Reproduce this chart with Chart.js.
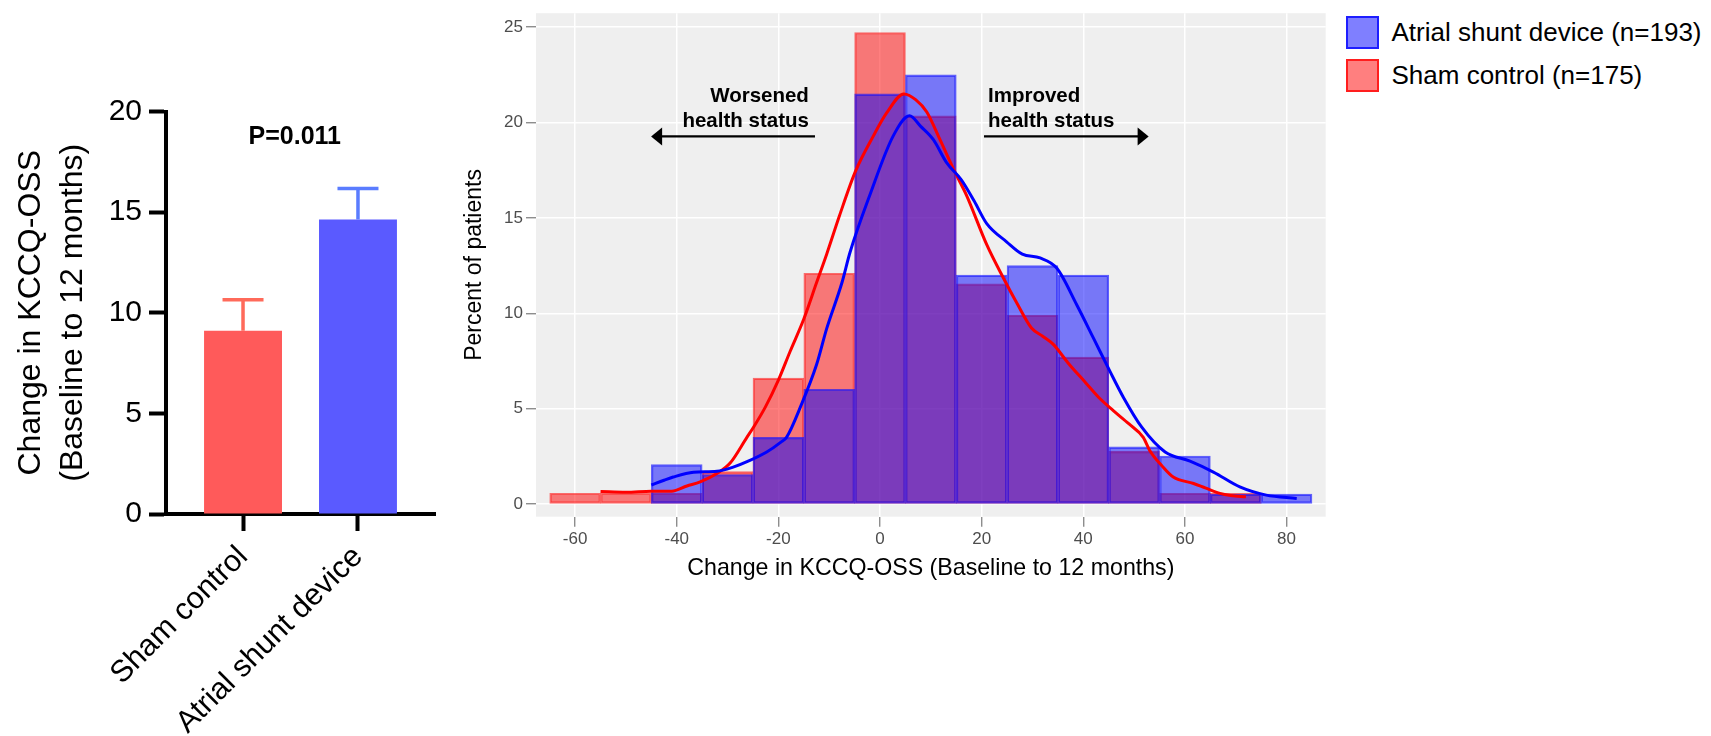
<!DOCTYPE html>
<html>
<head>
<meta charset="utf-8">
<script src="https://cdn.jsdelivr.net/npm/chart.js@4.4.1/dist/chart.umd.min.js"></script>
<style>
  body { margin: 0; background: #fff; width: 1711px; height: 736px; position: relative; overflow: hidden;
         font-family: 'Liberation Sans', Arial, Helvetica, sans-serif; }
  #barChart { position: absolute; left: 0; top: 0; }
  #histChart { position: absolute; left: 440px; top: 0; }
  #legend { position: absolute; left: 1346px; top: 16px; }
  .item { display: flex; align-items: center; height: 33px; margin-bottom: 9.5px; font-size: 26px; color: #000; white-space: nowrap; }
  .box { width: 33px; height: 33px; box-sizing: border-box; border: 2px solid; margin-right: 12.5px; }
</style>
</head>
<body>
<canvas id="barChart" width="440" height="736"></canvas>
<canvas id="histChart" width="890" height="600"></canvas>
<div id="legend"></div>
<script>
// left panel: mean change with SEM
const groups = ['Sham control', 'Atrial shunt device'];
const meanChange = [9.1, 14.63];
const semChange = [1.55, 1.54];
const pValueText = 'P=0.011';
const leftTicks = [0, 5, 10, 15, 20];

// right panel: histogram (% of patients per 10-point bin)
const binCenters = [-60, -50, -40, -30, -20, -10, 0, 10, 20, 30, 40, 50, 60, 70, 80];
const shuntPct = [null, null, 2.07, 1.55, 3.5, 6.02, 21.5, 22.5, 12.0, 12.5, 12.0, 3.0, 2.52, 0.52, 0.52];
const shamPct = [0.57, 0.57, 0.57, 1.7, 6.6, 12.1, 24.72, 20.35, 11.55, 9.9, 7.7, 2.76, 0.57, 0.57, null];
const histXTicks = [-60, -40, -20, 0, 20, 40, 60, 80];
const histYTicks = [0, 5, 10, 15, 20, 25];

// density curves
const shamKdeX = [-55, -50, -45, -41, -38, -35.4, -32.1, -29.5, -26.2, -24.9, -22.6, -20, -17.7, -15, -12.5, -10.5, -8, -4.9, -1.3, 1.3, 4.7, 7, 9.2, 11.8, 14.75, 17, 21, 24.3, 27, 29.8, 32, 34.1, 37, 40.5, 43, 45.9, 49, 51.8, 53.1, 55.5, 57.7, 61.7, 64, 66.9, 69, 72];
const shamKdeY = [0.66, 0.62, 0.68, 0.68, 0.95, 1.16, 1.6, 2.15, 3.5, 4.03, 5.07, 6.5, 8.0, 9.7, 11.6, 13.1, 15.1, 17.4, 19.3, 20.5, 21.5, 21.2, 20.55, 19.1, 17.4, 16.2, 13.6, 11.84, 10.5, 9.23, 8.8, 8.37, 7.4, 6.35, 5.6, 4.9, 4.2, 3.5, 2.8, 2.0, 1.42, 1.08, 0.85, 0.56, 0.45, 0.38];
const shuntKdeX = [-45, -42.5, -40.7, -36.7, -32.1, -28.9, -25.6, -22.3, -19.5, -18.4, -15.5, -12.5, -10.5, -7.5, -5.9, -2, 2.6, 5.8, 8, 10.5, 13.1, 16, 18.5, 21, 24.9, 28, 31.5, 34.8, 38.7, 42, 45.2, 47.9, 51.5, 56.1, 61, 65.6, 70.8, 76, 82];
const shuntKdeY = [1.0, 1.25, 1.42, 1.67, 1.72, 1.94, 2.29, 2.73, 3.25, 3.5, 5.2, 7.3, 9.2, 11.6, 13.2, 16.2, 19.3, 20.35, 19.8, 19.1, 17.9, 17.0, 15.9, 14.7, 13.75, 13.1, 12.9, 12.36, 10.45, 8.7, 6.98, 5.59, 4.03, 2.73, 2.25, 1.68, 0.9, 0.47, 0.3];

const FONT = "'Liberation Sans', Arial, Helvetica, sans-serif";
Chart.defaults.font.family = FONT;
Chart.defaults.color = '#000';
Chart.defaults.animation = false;

const errorBars = {
  id: 'errorBars',
  afterDatasetsDraw(chart, args, opts) {
    const {ctx, scales: {x, y}} = chart;
    ctx.save();
    ctx.lineWidth = 3.5;
    groups.forEach((g, i) => {
      const px = x.getPixelForValue(i);
      const top = y.getPixelForValue(meanChange[i] + semChange[i]);
      const base = y.getPixelForValue(meanChange[i]);
      ctx.strokeStyle = opts.colors[i];
      ctx.beginPath();
      ctx.moveTo(px, base);
      ctx.lineTo(px, top);
      ctx.moveTo(px - 20.5, top);
      ctx.lineTo(px + 20.5, top);
      ctx.stroke();
    });
    ctx.font = 'bold 25px ' + FONT;
    ctx.fillStyle = '#000';
    ctx.textAlign = 'center';
    ctx.textBaseline = 'middle';
    ctx.fillText(pValueText, x.getPixelForValue(0.45), y.getPixelForValue(18.75));
    ctx.restore();
  }
};

new Chart(document.getElementById('barChart'), {
  type: 'bar',
  data: {
    datasets: [{
      data: meanChange.map((v, i) => ({x: i, y: v})),
      backgroundColor: ['#ff5a5a', '#5a5aff'],
      borderWidth: 0,
      categoryPercentage: 1,
      barPercentage: 0.678
    }]
  },
  options: {
    responsive: false,
    layout: {padding: {top: 111.5, right: 5, left: 0, bottom: 0}},
    plugins: {
      legend: {display: false},
      tooltip: {enabled: false},
      errorBars: {colors: ['#ff6a5a', '#5a7cff']}
    },
    scales: {
      x: {
        type: 'linear', min: -0.67, max: 1.67, offset: false,
        afterBuildTicks: s => { s.ticks = groups.map((g, i) => ({value: i})); },
        afterFit: s => { s.height = 222; },
        grid: {drawOnChartArea: false, offset: false, tickLength: 17, tickWidth: 4, tickColor: '#000'},
        border: {display: true, color: '#000', width: 4},
        ticks: {callback: v => groups[v], minRotation: 45, maxRotation: 45, autoSkip: false,
                font: {size: 30.5}, color: '#000', padding: 8}
      },
      y: {
        min: 0, max: 20,
        afterBuildTicks: s => { s.ticks = leftTicks.map(v => ({value: v})); },
        afterFit: s => { s.width = 166; },
        grid: {drawOnChartArea: false, tickLength: 17, tickWidth: 4, tickColor: '#000'},
        border: {display: true, color: '#000', width: 4},
        ticks: {font: {size: 30}, color: '#000', padding: 7},
        title: {display: true, text: ['Change in KCCQ-OSS', '(Baseline to 12 months)'],
                font: {size: 32, lineHeight: 1.3125}, padding: {top: 10, bottom: 0}, color: '#000'}
      }
    }
  },
  plugins: [errorBars]
});

// gray panel behind the histogram
const panelBg = {
  id: 'panelBg',
  beforeDraw(chart) {
    const {ctx, chartArea: a} = chart;
    ctx.save();
    ctx.fillStyle = '#efefef';
    ctx.fillRect(a.left, a.top, a.right - a.left, a.bottom - a.top);
    ctx.restore();
  }
};

// bold notes with arrows
const notes = {
  id: 'notes',
  afterDraw(chart, args, opts) {
    const {ctx, scales: {x, y}} = chart;
    ctx.save();
    ctx.fillStyle = '#000';
    ctx.strokeStyle = '#000';
    ctx.font = 'bold 20.5px ' + FONT;
    ctx.textBaseline = 'alphabetic';
    opts.items.forEach(n => {
      ctx.textAlign = n.align;
      n.lines.forEach((t, k) => ctx.fillText(t, x.getPixelForValue(n.x), y.getPixelForValue(n.y) + k * 25));
      const ay = y.getPixelForValue(n.arrowY);
      const x1 = x.getPixelForValue(n.from), x2 = x.getPixelForValue(n.to);
      const dir = Math.sign(x2 - x1);
      ctx.lineWidth = 2.2;
      ctx.beginPath();
      ctx.moveTo(x1, ay);
      ctx.lineTo(x2 - dir * 8, ay);
      ctx.stroke();
      ctx.beginPath();
      ctx.moveTo(x2, ay);
      ctx.lineTo(x2 - dir * 11, ay - 9);
      ctx.lineTo(x2 - dir * 11, ay + 9);
      ctx.closePath();
      ctx.fill();
    });
    ctx.restore();
  }
};

const histChart = new Chart(document.getElementById('histChart'), {
  type: 'bar',
  data: {
    datasets: [
      {
        label: 'Atrial shunt device (n=193)',
        data: binCenters.map((c, i) => ({x: c, y: shuntPct[i]})),
        backgroundColor: 'rgba(0,0,255,0.5)',
        borderColor: 'rgba(20,20,255,0.65)',
        borderWidth: 1.5, borderSkipped: false,
        grouped: false, categoryPercentage: 1, barPercentage: 1,
        order: 3
      },
      {
        label: 'Sham control (n=175)',
        data: binCenters.map((c, i) => ({x: c, y: shamPct[i]})),
        backgroundColor: 'rgba(255,0,0,0.5)',
        borderColor: 'rgba(255,20,20,0.6)',
        borderWidth: 1.5, borderSkipped: false,
        grouped: false, categoryPercentage: 1, barPercentage: 1,
        order: 4
      },
      {
        type: 'line', label: 'sham density',
        data: shamKdeX.map((v, i) => ({x: v, y: shamKdeY[i]})),
        borderColor: '#ff0000', borderWidth: 3, pointRadius: 0, fill: false,
        cubicInterpolationMode: 'monotone', order: 2
      },
      {
        type: 'line', label: 'shunt density',
        data: shuntKdeX.map((v, i) => ({x: v, y: shuntKdeY[i]})),
        borderColor: '#0000ff', borderWidth: 3, pointRadius: 0, fill: false,
        cubicInterpolationMode: 'monotone', order: 1
      }
    ]
  },
  options: {
    responsive: false,
    layout: {padding: {top: 10, right: 4.3, left: 0, bottom: 0}},
    plugins: {
      legend: {display: false},
      tooltip: {enabled: false},
      notes: {items: [
        {lines: ['Worsened', 'health status'], align: 'right', x: -14, y: 21.1, arrowY: 19.27, from: -12.8, to: -45.05},
        {lines: ['Improved', 'health status'], align: 'left', x: 21.25, y: 21.1, arrowY: 19.27, from: 20.46, to: 52.86}
      ]}
    },
    scales: {
      x: {
        type: 'linear', min: -67.7, max: 87.7, offset: false,
        afterBuildTicks: s => { s.ticks = histXTicks.map(v => ({value: v})); },
        afterFit: s => { s.height = 83.3; },
        grid: {color: '#ffffff', lineWidth: 1.5, offset: false, tickLength: 10, tickWidth: 1.2, tickColor: '#7a7a7a'},
        border: {display: false},
        ticks: {font: {size: 17}, color: '#4d4d4d', padding: 2},
        title: {display: true, text: 'Change in KCCQ-OSS (Baseline to 12 months)',
                font: {size: 23.2, lineHeight: 1.2}, padding: {top: 0, bottom: 17.5}, color: '#000'}
      },
      y: {
        min: -0.66, max: 25.73,
        afterBuildTicks: s => { s.ticks = histYTicks.map(v => ({value: v})); },
        afterFit: s => { s.width = 96; },
        grid: {color: '#ffffff', lineWidth: 1.5, tickLength: 10, tickWidth: 1.2, tickColor: '#7a7a7a'},
        border: {display: false},
        ticks: {font: {size: 17}, color: '#4d4d4d', padding: 3},
        title: {display: true, text: 'Percent of patients',
                font: {size: 23, lineHeight: 1.2}, padding: {top: 21.2, bottom: 0}, color: '#000'}
      }
    }
  },
  plugins: [panelBg, notes]
});

// legend from the bar datasets
const legend = document.getElementById('legend');
histChart.data.datasets.filter(d => !d.type).forEach(d => {
  const item = document.createElement('div');
  item.className = 'item';
  const box = document.createElement('div');
  box.className = 'box';
  box.style.background = d.backgroundColor;
  box.style.borderColor = d.borderColor.replace(/[\d.]+\)$/, '0.9)');
  const label = document.createElement('span');
  label.textContent = d.label;
  item.appendChild(box);
  item.appendChild(label);
  legend.appendChild(item);
});
</script>
</body>
</html>
